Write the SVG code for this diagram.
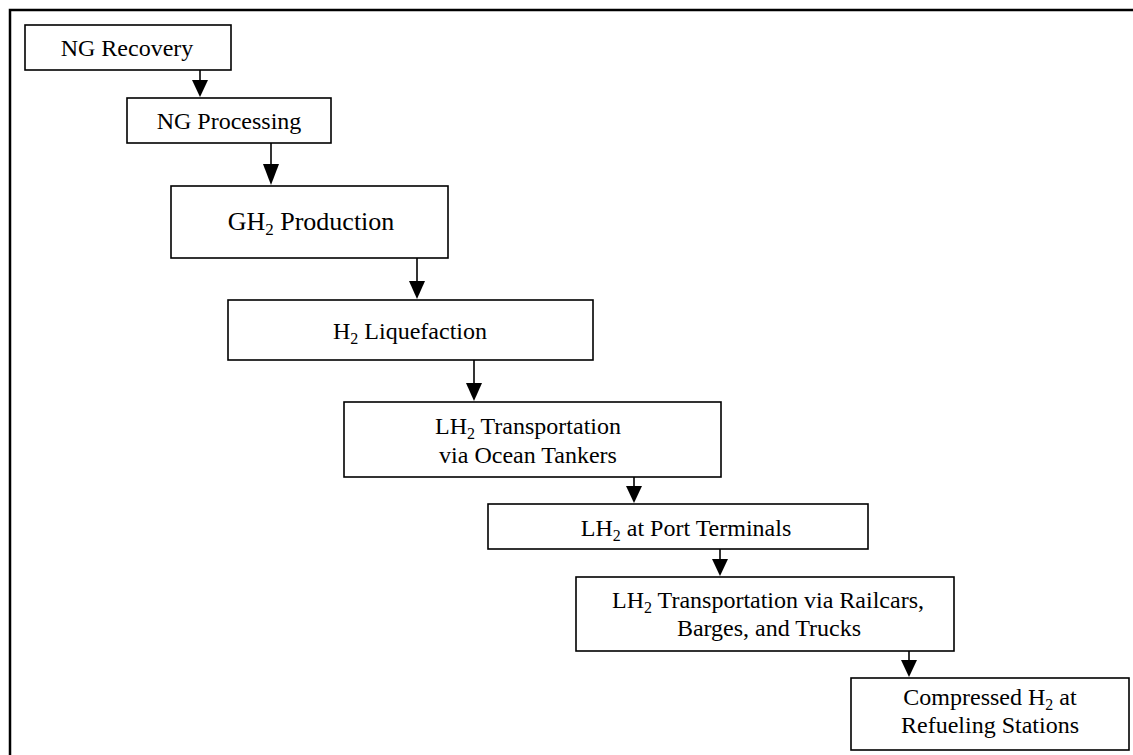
<svg xmlns="http://www.w3.org/2000/svg" width="1133" height="755" viewBox="0 0 1133 755">
<style>
.box{fill:#fff;stroke:#000;stroke-width:1.6}
.t{font-family:"Liberation Serif","Times New Roman",serif;font-size:24px;fill:#000;text-anchor:middle}
.s{font-size:16px}
.ln{stroke:#000;stroke-width:1.6;fill:none}
.hd{fill:#000}
</style>
<rect width="1133" height="755" fill="#fff"/>
<path d="M10 755 V10 H1133" fill="none" stroke="#000" stroke-width="2.5"/>
<g id="n1"><rect class="box" x="25" y="25" width="206" height="45"/><text class="t" x="127" y="56">NG Recovery</text></g>
<g id="n2"><rect class="box" x="127" y="98" width="204" height="45"/><text class="t" x="229" y="129">NG Processing</text></g>
<g id="n3"><rect class="box" x="171" y="186" width="277" height="72"/><text class="t" x="311" y="230" style="font-size:26px">GH<tspan dy="5" style="font-size:17px">2</tspan><tspan dy="-5"> Production</tspan></text></g>
<g id="n4"><rect class="box" x="228" y="300" width="365" height="60"/><text class="t" x="410" y="339">H<tspan class="s" dy="5">2</tspan><tspan dy="-5"> Liquefaction</tspan></text></g>
<g id="n5"><rect class="box" x="344" y="402" width="377" height="75"/><text class="t" x="528" y="434">LH<tspan class="s" dy="5">2</tspan><tspan dy="-5"> Transportation</tspan></text><text class="t" x="528" y="463">via Ocean Tankers</text></g>
<g id="n6"><rect class="box" x="488" y="504" width="380" height="45"/><text class="t" x="686" y="536">LH<tspan class="s" dy="5">2</tspan><tspan dy="-5"> at Port Terminals</tspan></text></g>
<g id="n7"><rect class="box" x="576" y="577" width="378" height="74"/><text class="t" x="768" y="608">LH<tspan class="s" dy="5">2</tspan><tspan dy="-5"> Transportation via Railcars,</tspan></text><text class="t" x="769" y="636">Barges, and Trucks</text></g>
<g id="n8"><rect class="box" x="851" y="678" width="278" height="72"/><text class="t" x="990" y="705">Compressed H<tspan class="s" dy="5">2</tspan><tspan dy="-5"> at</tspan></text><text class="t" x="990" y="733">Refueling Stations</text></g>
<g id="connectors">
<path class="ln" d="M200 70 V80"/><polygon class="hd" points="192,80 208,80 200,97"/>
<path class="ln" d="M271 143 V164"/><polygon class="hd" points="263,164 279,164 271,185"/>
<path class="ln" d="M417 258 V281"/><polygon class="hd" points="409,281 425,281 417,299"/>
<path class="ln" d="M474 360 V383"/><polygon class="hd" points="466,383 482,383 474,401"/>
<path class="ln" d="M634 477 V486"/><polygon class="hd" points="626,486 642,486 634,503"/>
<path class="ln" d="M720 549 V559"/><polygon class="hd" points="712,559 728,559 720,576"/>
<path class="ln" d="M909 651 V660"/><polygon class="hd" points="901,660 917,660 909,677"/>
</g>
</svg>
